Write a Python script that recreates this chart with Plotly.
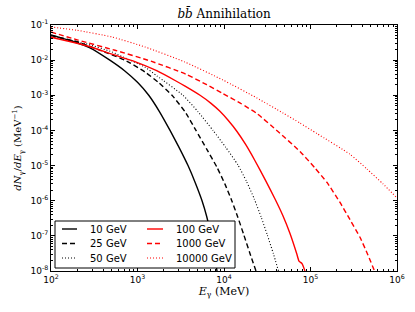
import plotly.graph_objects as go

# ---------------- data (E in MeV, dN/dE in MeV^-1) ----------------
labels = ["10 GeV", "25 GeV", "50 GeV", "100 GeV", "1000 GeV", "10000 GeV"]

E_10 = [100, 199.5, 281.8, 478.6, 707.9, 1000, 1349, 1778, 2377, 3020, 3837, 4677, 5572,
        6310, 7244, 8299]
N_10 = [0.0519, 0.0313, 0.0224, 0.0100, 0.00501, 0.00234, 0.00100, 3.55e-4, 1.0e-4,
        3.31e-5, 1.0e-5, 3.16e-6, 1.0e-6, 3.55e-7, 7.94e-8, 1.0e-8]

E_25 = [100, 205.1, 443.6, 716.1, 1222, 1778, 2506, 3548, 4742, 6310, 8299, 10230, 12300,
        14450, 16980, 19950, 23440]
N_25 = [0.0501, 0.0328, 0.0160, 0.0100, 0.0046, 0.00224, 0.00100, 3.39e-4, 1.0e-4,
        2.95e-5, 8.91e-6, 3.02e-6, 1.0e-6, 3.39e-7, 1.05e-7, 3.16e-8, 1.0e-8]

E_50 = [100, 251.2, 507, 679.2, 1222, 1679, 3357, 5012, 7464, 10470, 14450, 18200, 22390,
        26920, 31620, 37150, 42660]
N_50 = [0.0457, 0.0295, 0.0171, 0.0123, 0.00631, 0.00355, 0.00100, 3.39e-4, 1.0e-4,
        3.31e-5, 1.05e-5, 3.55e-6, 1.12e-6, 3.39e-7, 1.07e-7, 3.16e-8, 1.0e-8]

E_100 = [100, 199.5, 282.5, 507, 933, 1667, 2818, 3548, 5284, 7079, 8913, 11220, 14130,
         17780, 22910, 30200, 38900, 47860, 57940, 69180, 73620, 79800, 86300]
N_100 = [0.0447, 0.0302, 0.0240, 0.0148, 0.00912, 0.00501, 0.00251, 0.00182, 0.00100,
         5.89e-4, 3.55e-4, 1.91e-4, 9.33e-5, 3.98e-5, 1.35e-5, 3.80e-6, 1.12e-6, 3.80e-7,
         1.17e-7, 3.16e-8, 1.91e-8, 1.62e-8, 1.0e-8]

E_1000 = [100, 205.1, 549.5, 1432, 3639, 6310, 9727, 15850, 24040, 42070, 75680,
          112700, 155200, 219300, 286400, 373300, 462400, 549500]
N_1000 = [0.0631, 0.0372, 0.0191, 0.00933, 0.00398, 0.00200, 1.12e-3, 5.75e-4, 3.02e-4,
          9.33e-5, 2.51e-5, 8.51e-6, 3.31e-6, 8.91e-7, 2.88e-7, 9.12e-8, 2.82e-8, 1.0e-8]

E_10000 = [100, 199.5, 507, 1222, 3540, 9727, 24040, 48080, 75680, 118900, 286400,
           449800, 688600, 1000000]
N_10000 = [0.0877, 0.0708, 0.0456, 0.0237, 0.00885, 0.00272, 8.37e-4, 3.13e-4,
           1.62e-4, 8.13e-5, 2.09e-5, 7.94e-6, 3.02e-6, 1.20e-6]

x_tickvals = [1e2, 1e3, 1e4, 1e5, 1e6]
x_ticktext = ["10<sup>2</sup>", "10<sup>3</sup>", "10<sup>4</sup>", "10<sup>5</sup>", "10<sup>6</sup>"]
y_tickvals = [1e-8, 1e-7, 1e-6, 1e-5, 1e-4, 1e-3, 1e-2, 1e-1]
y_ticktext = ["10<sup>-8</sup>", "10<sup>-7</sup>", "10<sup>-6</sup>", "10<sup>-5</sup>",
              "10<sup>-4</sup>", "10<sup>-3</sup>", "10<sup>-2</sup>", "10<sup>-1</sup>"]

# ---------------- styles ----------------
colors = ["black", "black", "black", "#ff0000", "#ff0000", "#ff0000"]
dashes = ["solid", "5px,3px", "1px,2px", "solid", "5px,3px", "1px,2px"]
widths = [1.4, 1.4, 1.1, 1.4, 1.4, 1.1]
data = [(E_10, N_10), (E_25, N_25), (E_50, N_50),
        (E_100, N_100), (E_1000, N_1000), (E_10000, N_10000)]

fig = go.Figure()
for (E, N), name, col, dash, w in zip(data, labels, colors, dashes, widths):
    fig.add_trace(go.Scatter(
        x=E, y=N, name=name, mode="lines", showlegend=False,
        line=dict(color=col, dash=dash, width=w, shape="spline", smoothing=0.5),
    ))

axis_common = dict(
    type="log", showline=True, linecolor="black", linewidth=1, mirror="allticks",
    ticks="inside", ticklen=4, tickcolor="black", showgrid=False, zeroline=False,
    automargin=False,
    tickfont=dict(family="DejaVu Sans", size=9, color="black"),
    minor=dict(ticks="inside", ticklen=2, tickcolor="black", dtick="D1", showgrid=False),
)

fig.update_xaxes(
    range=[2, 6], tickvals=x_tickvals, ticktext=x_ticktext,
    title=dict(text="<i>E</i><sub>γ</sub> (MeV)",
               font=dict(family="DejaVu Serif", size=11, color="black"), standoff=2),
    **axis_common,
)
fig.update_yaxes(
    range=[-8, -1], tickvals=y_tickvals, ticktext=y_ticktext,
    title=dict(text="<i>dN</i><sub>γ</sub>/<i>dE</i><sub>γ</sub> (MeV<sup>−1</sup>)",
               font=dict(family="DejaVu Serif", size=10, color="black"), standoff=6),
    **axis_common,
)

# ---------------- legend (two columns, column-major like the reference) ----------------
PL, PR, PT, PB = 51, 397, 25, 271
def px(xp):
    return (xp - PL) / (PR - PL)
def py(yp):
    return (PB - yp) / (PB - PT)

shapes = [dict(type="rect", xref="paper", yref="paper",
               x0=px(55), x1=px(235), y0=py(268), y1=py(221),
               line=dict(color="black", width=1), fillcolor="white", layer="above")]
annotations = []
row_y = [229, 243.5, 258]
col_line = [(62, 77), (147, 163)]
col_text = [88, 174]
for i, name in enumerate(labels):
    c, r = divmod(i, 3)
    yy = py(row_y[r])
    shapes.append(dict(type="line", xref="paper", yref="paper",
                       x0=px(col_line[c][0]), x1=px(col_line[c][1]), y0=yy, y1=yy,
                       line=dict(color=colors[i], dash=dashes[i], width=widths[i]),
                       layer="above"))
    annotations.append(dict(text=name, xref="paper", yref="paper",
                            x=px(col_text[c]), y=yy, xanchor="left", yanchor="middle",
                            showarrow=False,
                            font=dict(family="DejaVu Sans", size=10, color="black")))

fig.update_layout(
    width=415, height=312,
    margin=dict(l=PL, r=415 - PR, t=PT, b=312 - PB),
    paper_bgcolor="white", plot_bgcolor="white",
    showlegend=False,
    title=dict(text="<i>b</i><i>b̄</i> Annihilation", x=0.54, xanchor="center",
               y=0.955, yanchor="middle",
               font=dict(family="DejaVu Serif", size=12, color="black")),
    shapes=shapes,
    annotations=annotations,
)

fig.write_html("out.html",
               config={"displayModeBar": False},
               post_script="document.body.style.margin='0';document.body.style.overflow='hidden';")
